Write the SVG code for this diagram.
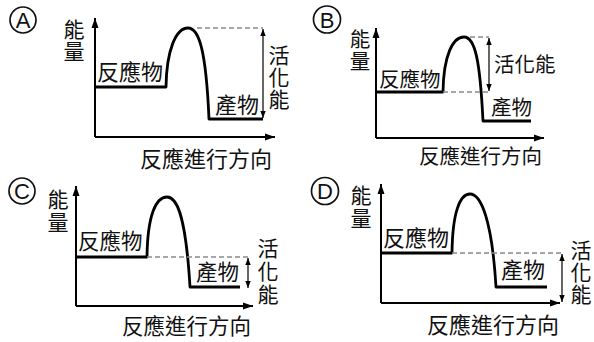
<svg xmlns="http://www.w3.org/2000/svg" width="594" height="342" viewBox="0 0 594 342">
<style>
text{font-family:"Noto Sans CJK TC","Noto Sans CJK SC",sans-serif;fill:#111;dominant-baseline:central}
.lt{font-family:"Liberation Sans",Arial,sans-serif;font-size:22px;text-anchor:middle}
.v{text-anchor:middle;font-size:21px}
.f22{font-size:22px}.f205{font-size:20.5px}.f215{font-size:21.5px}
.ring{fill:none;stroke:#111;stroke-width:1.7}
.axis{fill:none;stroke:#000;stroke-width:2;marker-end:url(#ah)}
.curve{fill:none;stroke:#000;stroke-width:2.8;stroke-linejoin:round}
.dash{fill:none;stroke:#8a8a8a;stroke-width:1.3;stroke-dasharray:5 3}
.ea{fill:none;stroke:#000;stroke-width:1.2;marker-start:url(#sa);marker-end:url(#sa)}
</style>
<defs>
<marker id="ah" markerUnits="userSpaceOnUse" markerWidth="11" markerHeight="8" refX="10" refY="4" orient="auto"><path d="M0,0.5 L10,4 L0,7.5 z" fill="#000"/></marker>
<marker id="sa" markerUnits="userSpaceOnUse" markerWidth="8" markerHeight="6" refX="7" refY="3" orient="auto-start-reverse"><path d="M0,0.3 L7,3 L0,5.7 z" fill="#000"/></marker>
</defs>

<g id="panelA">
<circle class="ring" cx="23" cy="20" r="13"/><text class="lt" x="23" y="20.5">A</text>
<text class="v" x="74"><tspan x="74" y="28">能</tspan><tspan x="74" y="50">量</tspan></text>
<text class="f22" x="97" y="70">反應物</text>
<text class="f22" x="215" y="103">產物</text>
<text class="f22" x="140" y="157">反應進行方向</text>
<text class="v" x="279"><tspan x="279" y="54">活</tspan><tspan x="279" y="76">化</tspan><tspan x="279" y="98">能</tspan></text>
</g>

<g id="panelB">
<circle class="ring" cx="327" cy="19.5" r="13.5"/><text class="lt" x="327" y="20">B</text>
<text class="v f205" x="360"><tspan x="360" y="38">能</tspan><tspan x="360" y="60">量</tspan></text>
<text class="f205" x="379" y="78">反應物</text>
<text class="f205" x="491" y="106">產物</text>
<text class="f205" x="494" y="63">活化能</text>
<text class="f205" x="419" y="155">反應進行方向</text>
</g>

<g id="panelC">
<circle class="ring" cx="22" cy="191" r="13"/><text class="lt" x="22" y="191.5">C</text>
<text class="v" x="58"><tspan x="58" y="198">能</tspan><tspan x="58" y="221">量</tspan></text>
<text class="f215" x="78" y="239">反應物</text>
<text class="f215" x="196" y="270">產物</text>
<text class="f215" x="122" y="324">反應進行方向</text>
<text class="v" x="268"><tspan x="268" y="247">活</tspan><tspan x="268" y="270">化</tspan><tspan x="268" y="293">能</tspan></text>
</g>

<g id="panelD">
<circle class="ring" cx="325" cy="191" r="13.5"/><text class="lt" x="325" y="191.5">D</text>
<text class="v" x="361"><tspan x="361" y="194">能</tspan><tspan x="361" y="217">量</tspan></text>
<text class="f22" x="383" y="236">反應物</text>
<text class="f22" x="501" y="268">產物</text>
<text class="f22" x="427" y="323">反應進行方向</text>
<text class="v" x="581"><tspan x="581" y="249">活</tspan><tspan x="581" y="271">化</tspan><tspan x="581" y="293">能</tspan></text>
</g>

<g id="connectors">
<path class="axis" d="M95,137 V18"/>
<path class="axis" d="M95,137 H275"/>
<path class="curve" d="M95,87 H166 C166.5,50 176,28 188,28 C199,28 206,50 209,119 H263"/>
<path class="dash" d="M197,28 H263"/>
<path class="ea" d="M263,29 V118"/>
<path class="axis" d="M376,138 V28"/>
<path class="axis" d="M376,138 H544"/>
<path class="curve" d="M376,92 H443 C443.5,55 453,37 464,37 C475,37 480,60 483,121 H531"/>
<path class="dash" d="M470,37 H489 M443,92 H489"/>
<path class="ea" d="M489,38 V91"/>
<path class="axis" d="M76,306 V186"/>
<path class="axis" d="M76,306 H253"/>
<path class="curve" d="M76,257 H147 C147.5,215 156,197 167,197 C178,197 186,220 190,287 H240"/>
<path class="dash" d="M147,257 H250"/>
<path class="ea" d="M248,258 V288"/>
<path class="axis" d="M381,303 V184"/>
<path class="axis" d="M381,303 H560"/>
<path class="curve" d="M381,253 H452 C452.5,212 460,194 470,194 C481,194 492,220 496,287 H547"/>
<path class="dash" d="M452,253 H564"/>
<path class="ea" d="M562,254 V302"/>
</g>
</svg>
